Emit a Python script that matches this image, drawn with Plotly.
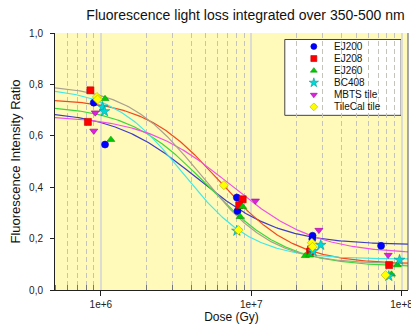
import numpy as np
import plotly.graph_objects as go

# ---- data ----
series_names = ["EJ200", "EJ208", "EJ260", "BC408", "MBTS tile", "TileCal tile"]

ej200_dose = [8.97e5, 1.066e6, 8.03e6, 8.11e6, 2.56e7, 2.55e7, 7.31e7]
ej200_ratio = [0.729, 0.566, 0.360, 0.307, 0.211, 0.198, 0.172]

ej208_dose = [8.52e5, 8.2e5, 8.78e6, 8.32e6, 2.46e7, 2.5e7, 8.27e7]
ej208_ratio = [0.777, 0.654, 0.353, 0.330, 0.149, 0.158, 0.097]

ej260_dose = [1.066e6, 1.166e6, 8.78e6, 8.45e6, 2.29e7, 2.45e7, 9.37e7, 8.57e7]
ej260_ratio = [0.744, 0.585, 0.324, 0.285, 0.133, 0.135, 0.097, 0.061]

bc408_dose = [1.026e6, 1.057e6, 8.03e6, 2.9e7, 2.58e7, 9.7e7, 8.23e7]
bc408_ratio = [0.712, 0.695, 0.230, 0.175, 0.151, 0.117, 0.054]

mbts_dose = [9.18e5, 8.97e5, 1.067e7, 2.82e7, 8.15e7]
mbts_ratio = [0.690, 0.619, 0.347, 0.233, 0.136]

tilecal_dose = [9.42e5, 9.5e5, 6.58e6, 8.23e6, 2.53e7, 2.56e7, 7.83e7]
tilecal_ratio = [0.751, 0.741, 0.408, 0.233, 0.184, 0.168, 0.058]

# sigmoidal (4-parameter logistic) fit curves, parameters
fit_top = [0.70, 0.745, 0.72, 0.79, 0.68, 0.80]
fit_bottom = [0.175, 0.10, 0.09, 0.12, 0.14, 0.10]
fit_log_mid = [6.635, 6.79, 6.711, 6.545, 6.86, 6.66]
fit_slope = [3.6, 4.0, 3.8, 4.3, 3.5, 4.1]   # logit change per decade

y_tickvals = [0.0, 0.2, 0.4, 0.6, 0.8, 1.0]
y_ticktext = ["0,0", "0,2", "0,4", "0,6", "0,8", "1,0"]
x_tickvals = [1e6, 1e7, 1e8]
x_ticktext = ["1e+6", "1e+7", "1e+8"]

# ---- styles ----
marker_colors = ["#0000FF", "#FF0000", "#00CC00", "#00D8D8", "#E020E0", "#FFFF00"]
marker_lines = ["#0000C0", "#C00000", "#009900", "#009999", "#A000A0", "#B0B000"]
symbols = ["circle", "square", "triangle-up", "star", "triangle-down", "diamond"]
line_colors = ["#3C3CC8", "#F04A1E", "#3CD83C", "#40E8E8", "#F050E8", "#A8A090"]

doses = [ej200_dose, ej208_dose, ej260_dose, bc408_dose, mbts_dose, tilecal_dose]
ratios = [ej200_ratio, ej208_ratio, ej260_ratio, bc408_ratio, mbts_ratio, tilecal_ratio]

# page geometry (page has an 8px body margin)
OFF = 8
PX0, PX1, PY0, PY1 = 52, 413, 32.5, 290   # plot area in page pixels
def px(x):
    return (x - PX0) / (PX1 - PX0)
def py(y):
    return (PY1 - y) / (PY1 - PY0)

LX0, LX1 = 5.695, 8.043
fig = go.Figure()

xs = np.logspace(LX0, LX1, 300)
for i in range(6):
    k = fit_slope[i]
    yfit = fit_bottom[i] + (fit_top[i] - fit_bottom[i]) / (1 + np.exp(k * (np.log10(xs) - fit_log_mid[i])))
    fig.add_trace(go.Scatter(x=xs, y=yfit, mode="lines", showlegend=False,
                             line=dict(color=line_colors[i], width=1.2), hoverinfo="skip"))

msize = [7, 7, 7, 8, 7, 7]
for i in range(6):
    fig.add_trace(go.Scatter(
        x=doses[i], y=ratios[i], mode="markers", name=series_names[i], showlegend=False,
        marker=dict(symbol=symbols[i], color=marker_colors[i], size=msize[i],
                    line=dict(color=marker_lines[i], width=0.6))))

# legend drawn in the plot's paper space
leg_rows = [46 + 12.1 * i for i in range(6)]
fig.add_shape(type="rect", xref="paper", yref="paper", x0=px(287), x1=px(406), y0=py(115), y1=py(39),
              fillcolor="white", line=dict(color="#444444", width=1), layer="between")
for i in range(6):
    fig.add_trace(go.Scatter(
        x=[px(316.7)], y=[py(leg_rows[i])], xaxis="x2", yaxis="y2", mode="markers", showlegend=False,
        hoverinfo="skip",
        marker=dict(symbol=symbols[i], color=marker_colors[i], size=msize[i] - 1,
                    line=dict(color=marker_lines[i], width=0.6))))
    fig.add_annotation(x=px(335), y=py(leg_rows[i]), xref="paper", yref="paper", text=series_names[i],
                       showarrow=False, xanchor="left", yanchor="middle",
                       font=dict(size=10, color="#111111"))

minor_vals = [k * 10 ** n for n in range(5, 9) for k in range(2, 10)
              if LX0 <= np.log10(k * 10 ** n) <= LX1]

W, H = 419 - OFF, 329 - OFF
fig.update_layout(
    width=W, height=H,
    margin=dict(l=PX0 - OFF, r=419 - PX1, t=PY0 - OFF, b=H - (PY1 - OFF), pad=0),
    paper_bgcolor="white",
    plot_bgcolor="#FFFAB9",
    font=dict(family="Liberation Sans, Arial, sans-serif", color="#222222", size=10),
    title=dict(text="Fluorescence light loss integrated over 350-500 nm",
               x=(245.5 - OFF) / W, xanchor="center", xref="container",
               y=1 - 2.5 / H, yanchor="top", yref="container", pad=dict(t=0, b=0),
               font=dict(size=14, color="#111111")),
    showlegend=False,
    xaxis=dict(type="log", range=[LX0, LX1], tickmode="array", tickvals=x_tickvals, ticktext=x_ticktext,
               showline=True, linecolor="#222222", linewidth=1, ticks="outside", ticklen=5,
               tickcolor="#222222", showgrid=True, gridcolor="#DCDCD2", gridwidth=1.5,
               zeroline=False,
               minor=dict(tickmode="array", tickvals=minor_vals, ticks="inside", ticklen=5,
                          tickcolor="#777777", showgrid=True, gridcolor="#C4C4BC", griddash="5px,3px",
                          gridwidth=1),
               title=dict(text="Dose (Gy)", font=dict(size=12, color="#111111"), standoff=3),
               tickfont=dict(size=10)),
    yaxis=dict(range=[0, 1], tickmode="array", tickvals=y_tickvals, ticktext=y_ticktext,
               showline=True, linecolor="#222222", linewidth=1, ticks="outside", ticklen=4,
               tickcolor="#222222", showgrid=False, zeroline=False, ticklabelstandoff=5,
               title=dict(text="Fluorescence Intensity Ratio", font=dict(size=13, color="#111111"), standoff=6),
               tickfont=dict(size=10)),
    xaxis2=dict(overlaying="x", range=[0, 1], visible=False),
    yaxis2=dict(overlaying="y", range=[0, 1], visible=False),
)
fig.add_shape(type="line", xref="paper", yref="paper", x0=1, x1=1, y0=0, y1=1,
              line=dict(color="#555555", width=1))

fig.write_html("out.html")
